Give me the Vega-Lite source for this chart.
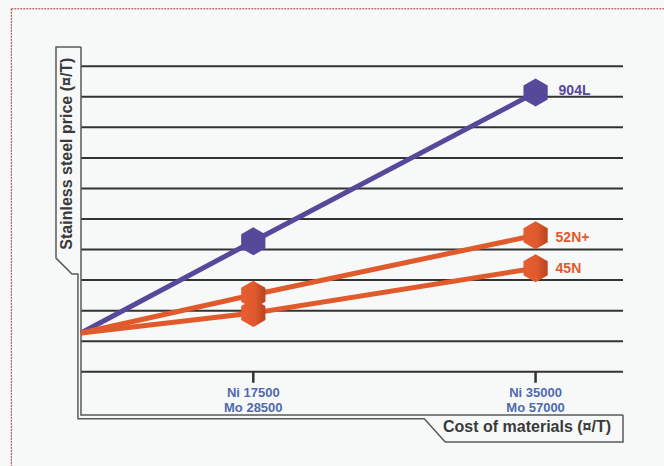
{
  "$schema": "https://vega.github.io/schema/vega-lite/v6.json",
  "width": 567,
  "height": 395,
  "autosize": "none",
  "padding": {"left": 56, "top": 47, "right": 41, "bottom": 24},
  "background": "#f7f8f8",
  "config": {"view": {"stroke": null}},
  "datasets": {
    "grid": [{"level": 0}, {"level": 1}, {"level": 2}, {"level": 3}, {"level": 4}, {"level": 5}, {"level": 6}, {"level": 7}, {"level": 8}, {"level": 9}, {"level": 10}],
    "border": [
      {"x": 2.5, "x2": 50, "y": 11.88, "y2": 11.88},
      {"x": 2.5, "x2": 2.5, "y": 11.88, "y2": -5}
    ],
    "frame": [
      {"path": "outer", "i": 0, "x": 6.82, "y": 10.63},
      {"path": "outer", "i": 1, "x": 5.27, "y": 10.63},
      {"path": "outer", "i": 2, "x": 5.27, "y": 3.72},
      {"path": "outer", "i": 3, "x": 6.26, "y": 3.2},
      {"path": "outer", "i": 4, "x": 6.63, "y": 3.2},
      {"path": "outer", "i": 5, "x": 6.63, "y": -1.54},
      {"path": "outer", "i": 6, "x": 28.1, "y": -1.54},
      {"path": "outer", "i": 7, "x": 29.4, "y": -2.3},
      {"path": "outer", "i": 8, "x": 40.42, "y": -2.3},
      {"path": "outer", "i": 9, "x": 40.42, "y": -1.42},
      {"path": "inner", "i": 0, "x": 6.82, "y": 10.63},
      {"path": "inner", "i": 1, "x": 6.82, "y": -1.42},
      {"path": "inner", "i": 2, "x": 40.42, "y": -1.42}
    ],
    "series": [
      {"grade": "904L", "ni": 6.82, "price": 1.27, "marker": false},
      {"grade": "904L", "ni": 17.5, "price": 4.27, "marker": true},
      {"grade": "904L", "ni": 35, "price": 9.14, "marker": true},
      {"grade": "45N", "ni": 6.82, "price": 1.27, "marker": false},
      {"grade": "45N", "ni": 17.5, "price": 1.92, "marker": true},
      {"grade": "45N", "ni": 35, "price": 3.39, "marker": true},
      {"grade": "52N+", "ni": 6.82, "price": 1.27, "marker": false},
      {"grade": "52N+", "ni": 17.5, "price": 2.52, "marker": true},
      {"grade": "52N+", "ni": 35, "price": 4.47, "marker": true}
    ],
    "ticks": [
      {"ni": 17.5, "label": "Ni 17500\nMo 28500"},
      {"ni": 35, "label": "Ni 35000\nMo 57000"}
    ],
    "ytitle": [{"text": "Stainless steel price (¤/T)", "x": 6.28, "y": 7.14}],
    "xtitle": [{"text": "Cost of materials (¤/T)", "x": 34.47, "y": -1.97}]
  },
  "layer": [
    {
      "data": {"name": "border"},
      "mark": {"type": "rule", "color": "#a03a3a", "strokeWidth": 1, "strokeDash": [2, 1], "clip": false},
      "encoding": {
        "x": {"field": "x", "type": "quantitative", "scale": {"domain": [5.27, 40.42], "nice": false, "zero": false}, "axis": null},
        "x2": {"field": "x2"},
        "y": {"field": "y", "type": "quantitative", "scale": {"domain": [-2.3, 10.63], "nice": false, "zero": false}, "axis": null},
        "y2": {"field": "y2"}
      }
    },
    {
      "data": {"name": "grid"},
      "mark": {"type": "rule", "color": "#333333", "strokeWidth": 2},
      "encoding": {
        "x": {"datum": 6.82, "type": "quantitative"},
        "x2": {"datum": 40.42},
        "y": {"field": "level", "type": "quantitative"}
      }
    },
    {
      "data": {"name": "ticks"},
      "mark": {"type": "rule", "color": "#333333", "strokeWidth": 2.5},
      "encoding": {
        "x": {"field": "ni", "type": "quantitative"},
        "y": {"datum": 0, "type": "quantitative"},
        "y2": {"datum": -0.36}
      }
    },
    {
      "data": {"name": "ticks"},
      "mark": {"type": "text", "lineBreak": "\n", "lineHeight": 15, "font": "Liberation Sans", "fontWeight": "bold", "fontSize": 13, "color": "#4e6aad", "align": "center", "baseline": "alphabetic"},
      "encoding": {
        "x": {"field": "ni", "type": "quantitative"},
        "y": {"datum": -0.82, "type": "quantitative"},
        "text": {"field": "label"}
      }
    },
    {
      "data": {"name": "frame"},
      "mark": {"type": "line", "color": "#5a5a5a", "strokeWidth": 1.5, "clip": false},
      "encoding": {
        "x": {"field": "x", "type": "quantitative"},
        "y": {"field": "y", "type": "quantitative"},
        "detail": {"field": "path"},
        "order": {"field": "i", "type": "quantitative"}
      }
    },
    {
      "data": {"name": "ytitle"},
      "mark": {"type": "text", "angle": 270, "font": "Liberation Sans", "fontWeight": "bold", "fontSize": 16, "color": "#3a3a3a", "align": "center", "baseline": "alphabetic"},
      "encoding": {
        "x": {"field": "x", "type": "quantitative"},
        "y": {"field": "y", "type": "quantitative"},
        "text": {"field": "text"}
      }
    },
    {
      "data": {"name": "xtitle"},
      "mark": {"type": "text", "font": "Liberation Sans", "fontWeight": "bold", "fontSize": 16, "color": "#3a3a3a", "align": "center", "baseline": "alphabetic"},
      "encoding": {
        "x": {"field": "x", "type": "quantitative"},
        "y": {"field": "y", "type": "quantitative"},
        "text": {"field": "text"}
      }
    },
    {
      "data": {"name": "series"},
      "mark": {"type": "line", "strokeWidth": 5},
      "encoding": {
        "x": {"field": "ni", "type": "quantitative"},
        "y": {"field": "price", "type": "quantitative"},
        "color": {"field": "grade", "type": "nominal", "scale": {"domain": ["904L", "52N+", "45N"], "range": ["#56499a", "#e05a2c", "#e05a2c"]}, "legend": null},
        "order": {"field": "ni", "type": "quantitative"}
      }
    },
    {
      "data": {"name": "series"},
      "transform": [{"filter": "datum.marker && datum.grade == '904L'"}],
      "mark": {"type": "point", "shape": "M0,-1L0.866,-0.5L0.866,0.5L0,1L-0.866,0.5L-0.866,-0.5Z", "size": 784, "filled": true, "fill": "#56499a", "opacity": 1, "strokeWidth": 0},
      "encoding": {
        "x": {"field": "ni", "type": "quantitative"},
        "y": {"field": "price", "type": "quantitative"}
      }
    },
    {
      "data": {"name": "series"},
      "transform": [{"filter": "datum.marker && datum.grade != '904L'"}],
      "mark": {"type": "point", "shape": "M0,-1L0.866,-0.5L0.866,0.5L0,1L-0.866,0.5L-0.866,-0.5Z", "size": 784, "filled": true, "opacity": 1, "strokeWidth": 0,
        "fill": {"gradient": "linear", "x1": 0, "y1": 0, "x2": 1, "y2": 0, "stops": [{"offset": 0, "color": "#e45e31"}, {"offset": 0.55, "color": "#e05a2d"}, {"offset": 1, "color": "#b84420"}]}},
      "encoding": {
        "x": {"field": "ni", "type": "quantitative"},
        "y": {"field": "price", "type": "quantitative"}
      }
    },
    {
      "data": {"name": "series"},
      "transform": [{"filter": "datum.ni == 35 && datum.grade == '904L'"}],
      "mark": {"type": "text", "align": "left", "baseline": "alphabetic", "dx": 23, "dy": 2.5, "font": "Liberation Sans", "fontWeight": "bold", "fontSize": 14},
      "encoding": {
        "x": {"field": "ni", "type": "quantitative"},
        "y": {"field": "price", "type": "quantitative"},
        "text": {"field": "grade"},
        "color": {"field": "grade", "type": "nominal", "legend": null}
      }
    },
    {
      "data": {"name": "series"},
      "transform": [{"filter": "datum.ni == 35 && datum.grade == '52N+'"}],
      "mark": {"type": "text", "align": "left", "baseline": "alphabetic", "dx": 20, "dy": 7, "font": "Liberation Sans", "fontWeight": "bold", "fontSize": 14},
      "encoding": {
        "x": {"field": "ni", "type": "quantitative"},
        "y": {"field": "price", "type": "quantitative"},
        "text": {"field": "grade"},
        "color": {"field": "grade", "type": "nominal", "legend": null}
      }
    },
    {
      "data": {"name": "series"},
      "transform": [{"filter": "datum.ni == 35 && datum.grade == '45N'"}],
      "mark": {"type": "text", "align": "left", "baseline": "alphabetic", "dx": 20, "dy": 5, "font": "Liberation Sans", "fontWeight": "bold", "fontSize": 14},
      "encoding": {
        "x": {"field": "ni", "type": "quantitative"},
        "y": {"field": "price", "type": "quantitative"},
        "text": {"field": "grade"},
        "color": {"field": "grade", "type": "nominal", "legend": null}
      }
    }
  ]
}
